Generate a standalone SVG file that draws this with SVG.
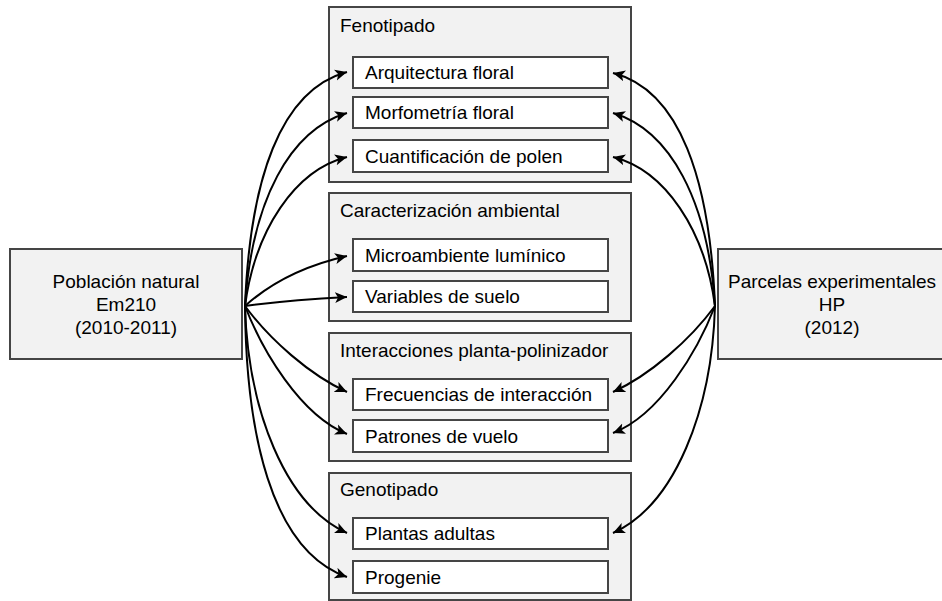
<svg xmlns="http://www.w3.org/2000/svg" width="942" height="601" viewBox="0 0 942 601">
  <defs>
    <style>
      text { font-family: "Liberation Sans", Arial, sans-serif; font-size: 19px; fill: #000; }
      .src { fill: #f2f2f2; stroke: #454545; stroke-width: 2; }
      .grp { fill: #f2f2f2; stroke: #454545; stroke-width: 2; }
      .item { fill: #ffffff; stroke: #454545; stroke-width: 2; }
      .mid { text-anchor: middle; }
      .edge { fill: none; stroke: #000; stroke-width: 2; marker-end: url(#arrow); }
    </style>
    <marker id="arrow" markerUnits="userSpaceOnUse" markerWidth="14" markerHeight="12" refX="12" refY="6" orient="auto">
      <path d="M0,0.5 L12,6 L0,11.5 L3,6 Z" fill="#000"/>
    </marker>
  </defs>

  <!-- source nodes -->
  <g id="poblacion-natural">
    <rect class="src" x="10" y="249" width="232" height="110"/>
    <text class="mid" x="126" y="288">Población natural</text>
    <text class="mid" x="126" y="311">Em210</text>
    <text class="mid" x="126" y="334">(2010-2011)</text>
  </g>
  <g id="parcelas-experimentales">
    <rect class="src" x="718" y="249" width="230" height="110"/>
    <text class="mid" x="832" y="288">Parcelas experimentales</text>
    <text class="mid" x="832" y="311">HP</text>
    <text class="mid" x="832" y="334">(2012)</text>
  </g>

  <!-- Fenotipado -->
  <g id="fenotipado">
    <rect class="grp" x="329" y="7" width="302" height="175"/>
    <text x="340" y="32">Fenotipado</text>
  </g>
  <g id="arquitectura-floral">
    <rect class="item" x="353" y="57" width="255" height="31"/>
    <text x="365" y="79">Arquitectura floral</text>
  </g>
  <g id="morfometria-floral">
    <rect class="item" x="353" y="97" width="255" height="31"/>
    <text x="365" y="119">Morfometría floral</text>
  </g>
  <g id="cuantificacion-polen">
    <rect class="item" x="353" y="140" width="255" height="32"/>
    <text x="365" y="163">Cuantificación de polen</text>
  </g>

  <!-- Caracterización ambiental -->
  <g id="caracterizacion-ambiental">
    <rect class="grp" x="329" y="193" width="302" height="128"/>
    <text x="340" y="217">Caracterización ambiental</text>
  </g>
  <g id="microambiente-luminico">
    <rect class="item" x="353" y="239" width="255" height="32"/>
    <text x="365" y="262">Microambiente lumínico</text>
  </g>
  <g id="variables-suelo">
    <rect class="item" x="353" y="281" width="255" height="31"/>
    <text x="365" y="303">Variables de suelo</text>
  </g>

  <!-- Interacciones planta-polinizador -->
  <g id="interacciones">
    <rect class="grp" x="329" y="333" width="302" height="128"/>
    <text x="340" y="357">Interacciones planta-polinizador</text>
  </g>
  <g id="frecuencias-interaccion">
    <rect class="item" x="353" y="379" width="255" height="31"/>
    <text x="365" y="401">Frecuencias de interacción</text>
  </g>
  <g id="patrones-vuelo">
    <rect class="item" x="353" y="420" width="255" height="32"/>
    <text x="365" y="443">Patrones de vuelo</text>
  </g>

  <!-- Genotipado -->
  <g id="genotipado">
    <rect class="grp" x="329" y="473" width="302" height="127"/>
    <text x="340" y="496">Genotipado</text>
  </g>
  <g id="plantas-adultas">
    <rect class="item" x="353" y="518" width="255" height="31"/>
    <text x="365" y="540">Plantas adultas</text>
  </g>
  <g id="progenie">
    <rect class="item" x="353" y="561" width="255" height="32"/>
    <text x="365" y="584">Progenie</text>
  </g>

  <!-- connectors -->
  <g id="connectors">
    <!-- from Población natural -->
    <path class="edge" d="M245,306 C250,180 280,90 347,72"/>
    <path class="edge" d="M245,306 C252,200 290,130 347,113"/>
    <path class="edge" d="M245,306 C255,230 295,170 347,157"/>
    <path class="edge" d="M245,306 Q285,270 347,256"/>
    <path class="edge" d="M245,306 Q290,300 347,297"/>
    <path class="edge" d="M245,306 C270,340 310,375 347,392"/>
    <path class="edge" d="M245,306 C262,350 300,415 347,434"/>
    <path class="edge" d="M245,306 C248,410 285,505 347,533"/>
    <path class="edge" d="M245,306 C246,430 270,550 347,577"/>
    <!-- from Parcelas experimentales -->
    <path class="edge" d="M715,306 C710,180 680,90 613,73"/>
    <path class="edge" d="M715,306 C708,200 670,130 613,113"/>
    <path class="edge" d="M715,306 C705,230 665,170 613,157"/>
    <path class="edge" d="M715,306 C690,340 650,375 613,392"/>
    <path class="edge" d="M715,306 C698,350 660,415 613,433"/>
    <path class="edge" d="M715,306 C712,410 675,505 613,533"/>
  </g>
</svg>
